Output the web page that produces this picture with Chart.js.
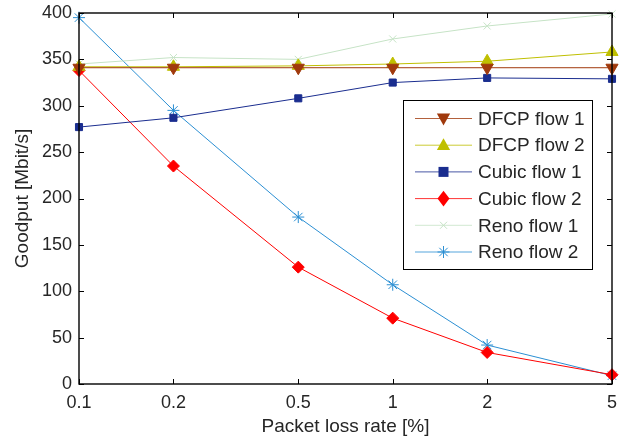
<!DOCTYPE html>
<html>
<head>
<meta charset="utf-8">
<script src="https://cdn.jsdelivr.net/npm/chart.js@4.4.1/dist/chart.umd.min.js"></script>
<style>
  html, body { margin: 0; padding: 0; background: #fff; }
  #wrap { width: 634px; height: 441px; }
</style>
</head>
<body>
<div id="wrap"><canvas id="goodput" width="634" height="441"></canvas></div>
<script>
// Goodput vs packet loss rate (log x axis)
const lossRates = [0.1, 0.2, 0.5, 1, 2, 5];
const xTicks = [0.1, 0.2, 0.5, 1, 2, 5];

const dfcpFlow1 = [341, 341, 341, 341, 341, 341];
const dfcpFlow2 = [342, 342, 343, 345, 348, 358];
const cubicFlow1 = [277, 287, 308, 325, 330, 329];
const cubicFlow2 = [338, 235, 126, 71, 34, 10];
const renoFlow1 = [345, 352, 350, 372, 386, 399];
const renoFlow2 = [395, 295, 180, 107, 42, 9];

const seriesNames = ["DFCP flow 1", "DFCP flow 2", "Cubic flow 1", "Cubic flow 2", "Reno flow 1", "Reno flow 2"];

const FONT = "'Liberation Sans', Arial, Helvetica, sans-serif";
const TEXT = "#262626";

function pts(values) {
  return lossRates.map((x, i) => ({ x: x, y: values[i] }));
}

// marker drawing shared by the legend
function drawMarker(ctx, style, x, y, r, color, rotation) {
  ctx.save();
  ctx.fillStyle = color;
  ctx.strokeStyle = color;
  ctx.lineWidth = 1;
  ctx.beginPath();
  if (style === "triangle") {
    const s = rotation ? -1 : 1;
    ctx.moveTo(x, y - s * r);
    ctx.lineTo(x + r * 0.95, y + s * r * 0.7);
    ctx.lineTo(x - r * 0.95, y + s * r * 0.7);
    ctx.closePath();
    ctx.fill();
  } else if (style === "rect") {
    ctx.rect(x - r, y - r, 2 * r, 2 * r);
    ctx.fill();
  } else if (style === "rectRot") {
    ctx.moveTo(x, y - r * 1.3);
    ctx.lineTo(x + r, y);
    ctx.lineTo(x, y + r * 1.3);
    ctx.lineTo(x - r, y);
    ctx.closePath();
    ctx.fill();
  } else if (style === "crossRot") {
    const d = r * 0.7;
    ctx.moveTo(x - d, y - d); ctx.lineTo(x + d, y + d);
    ctx.moveTo(x + d, y - d); ctx.lineTo(x - d, y + d);
    ctx.stroke();
  } else if (style === "star") {
    const d = r * 0.7;
    ctx.moveTo(x - r, y); ctx.lineTo(x + r, y);
    ctx.moveTo(x, y - r); ctx.lineTo(x, y + r);
    ctx.moveTo(x - d, y - d); ctx.lineTo(x + d, y + d);
    ctx.moveTo(x + d, y - d); ctx.lineTo(x - d, y + d);
    ctx.stroke();
  }
  ctx.restore();
}

const datasets = [
  { label: seriesNames[0], data: pts(dfcpFlow1), borderColor: "#A0390C", backgroundColor: "#A0390C",
    pointStyle: "triangle", rotation: 180, pointRadius: 7 },
  { label: seriesNames[1], data: pts(dfcpFlow2), borderColor: "#BFBF00", backgroundColor: "#BFBF00",
    pointStyle: "triangle", rotation: 0, pointRadius: 7 },
  { label: seriesNames[2], data: pts(cubicFlow1), borderColor: "#1A2D8F", backgroundColor: "#1A2D8F",
    pointStyle: "rect", pointRadius: 5 },
  { label: seriesNames[3], data: pts(cubicFlow2), borderColor: "#FF0000", backgroundColor: "#FF0000",
    pointStyle: "rectRot", pointRadius: 6 },
  { label: seriesNames[4], data: pts(renoFlow1), borderColor: "#C6E3C6", backgroundColor: "#C6E3C6",
    pointStyle: "crossRot", pointRadius: 5 },
  { label: seriesNames[5], data: pts(renoFlow2), borderColor: "#2B8FD3", backgroundColor: "#2B8FD3",
    pointStyle: "star", pointRadius: 6 }
];
datasets.forEach(d => {
  d.borderWidth = 1;
  d.pointBorderWidth = 1;
  d.pointHoverRadius = d.pointRadius;
  d.fill = false;
  d.tension = 0;
  d.clip = false;
});

const legendStyle = [
  { style: "triangle", r: 7, rot: true },
  { style: "triangle", r: 7, rot: false },
  { style: "rect", r: 5 },
  { style: "rectRot", r: 6 },
  { style: "crossRot", r: 5 },
  { style: "star", r: 6 }
];

// box, inward ticks on all four sides, legend box
const framePlugin = {
  id: "frame",
  afterDraw(chart) {
    const ctx = chart.ctx;
    const a = chart.chartArea;
    const xs = chart.scales.x, ys = chart.scales.y;
    const tl = 5;
    ctx.save();
    ctx.strokeStyle = "#000";
    ctx.lineWidth = 1;
    ctx.beginPath();
    xTicks.forEach(v => {
      const px = Math.round(xs.getPixelForValue(v)) + 0.5;
      ctx.moveTo(px, a.bottom); ctx.lineTo(px, a.bottom - tl);
      ctx.moveTo(px, a.top); ctx.lineTo(px, a.top + tl);
    });
    ys.ticks.forEach(t => {
      const py = Math.round(ys.getPixelForValue(t.value)) + 0.5;
      ctx.moveTo(a.left, py); ctx.lineTo(a.left + tl, py);
      ctx.moveTo(a.right, py); ctx.lineTo(a.right - tl, py);
    });
    ctx.stroke();
    ctx.lineWidth = 1.4;
    ctx.strokeRect(a.left, a.top, a.right - a.left, a.bottom - a.top);

    // legend
    const lx = 403, ly = 100, lw = 189, lh = 169;
    ctx.fillStyle = "#fff";
    ctx.fillRect(lx, ly, lw, lh);
    ctx.lineWidth = 1;
    ctx.strokeRect(lx + 0.5, ly + 0.5, lw, lh);
    ctx.font = "19px " + FONT;
    ctx.textBaseline = "middle";
    ctx.textAlign = "left";
    chart.data.datasets.forEach((d, i) => {
      const cy = ly + 18.5 + i * 26.7;
      ctx.strokeStyle = d.borderColor;
      ctx.lineWidth = 1;
      ctx.globalAlpha = 0.8;
      ctx.beginPath();
      ctx.moveTo(415, cy); ctx.lineTo(472, cy);
      ctx.stroke();
      ctx.globalAlpha = 1;
      const m = legendStyle[i];
      drawMarker(ctx, m.style, 443.5, cy, m.r, d.borderColor, m.rot);
      ctx.fillStyle = TEXT;
      ctx.fillText(d.label, 478, cy + 1);
    });
    ctx.restore();
  }
};

new Chart(document.getElementById("goodput"), {
  type: "line",
  data: { datasets: datasets },
  options: {
    responsive: false,
    animation: false,
    events: [],
    layout: { padding: { top: 13, right: 22, left: 0, bottom: 0 } },
    plugins: { legend: { display: false }, tooltip: { enabled: false } },
    scales: {
      x: {
        type: "logarithmic",
        min: 0.1,
        max: 5,
        afterBuildTicks(scale) {
          scale.ticks = xTicks.map(v => ({ value: v }));
        },
        afterFit(scale) {
          scale.height = 57;
          scale.paddingLeft = 0;
          scale.paddingRight = 0;
        },
        grid: { display: false, drawTicks: false },
        border: { display: false },
        ticks: {
          autoSkip: false,
          maxRotation: 0,
          padding: 8,
          color: TEXT,
          font: { family: FONT, size: 18 },
          callback: v => String(v)
        },
        title: {
          display: true,
          text: "Packet loss rate [%]",
          color: TEXT,
          font: { family: FONT, size: 19 },
          padding: { top: 0, bottom: 3 }
        }
      },
      y: {
        min: 0,
        max: 400,
        afterFit(scale) {
          scale.width = 79;
          scale.paddingTop = 0;
          scale.paddingBottom = 0;
        },
        grid: { display: false, drawTicks: false },
        border: { display: false },
        ticks: {
          stepSize: 50,
          padding: 7,
          color: TEXT,
          font: { family: FONT, size: 18 }
        },
        title: {
          display: true,
          text: "Goodput [Mbit/s]",
          color: TEXT,
          font: { family: FONT, size: 19 },
          padding: { top: 11, bottom: 0 }
        }
      }
    }
  },
  plugins: [framePlugin]
});
</script>
</body>
</html>
